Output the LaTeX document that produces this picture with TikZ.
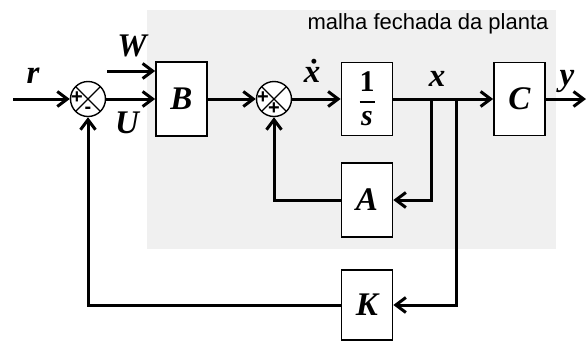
\documentclass[tikz,border=0pt]{standalone}
\usepackage{amsmath}
\usepackage{fontspec}
\setmainfont{Liberation Serif}
\newfontfamily\labelfont{Liberation Sans}
\usetikzlibrary{arrows.meta,calc,positioning}

\begin{document}
\begin{tikzpicture}[x=1pt,y=-1pt,
    block/.style={draw,line width=1.8pt,fill=white,minimum width=51pt,minimum height=74pt,inner sep=0pt,font=\fontsize{33}{33}\selectfont\bfseries\itshape},
    sumnode/.style={draw,circle,line width=1.4pt,fill=white,minimum size=35pt,inner sep=0pt,
      path picture={\draw[line width=1.4pt] (path picture bounding box.north west) -- (path picture bounding box.south east)
        (path picture bounding box.north east) -- (path picture bounding box.south west);}},
    sgn/.style={font=\labelfont\bfseries\fontsize{20}{20}\selectfont,inner sep=0pt},
    lbl/.style={font=\fontsize{33}{33}\selectfont\bfseries\itshape,inner sep=0pt},
    conn/.style={line width=3pt,-{Straight Barb[length=10pt,width=15pt]}}]
        \useasboundingbox (0,0) rectangle (587,341);
        % Draw the shaded region of the plant loop
        \fill[gray!12] (147,10) rectangle (556,249);
        \node[font=\labelfont\fontsize{22}{22}\selectfont,inner sep=0pt] (title) at (428,24) {malha fechada da planta};
        % Blocks and summing junctions
        \node[sumnode] (sum1) at (88,99) {};
        \node[block] (B) at (181.5,99) {B};
        \node[sumnode] (sum2) at (274,99) {};
        \node[block,minimum height=73pt,font=\fontsize{30}{30}\selectfont\bfseries\itshape] (integ) at (367,99) {$\displaystyle\genfrac{}{}{2pt}{0}{\text{\upshape 1}}{\text{s}}$};
        \node[block,minimum height=73pt] (C) at (519.5,99) {C};
        \node[block] (A) at (367,200) {A};
        \node[block,minimum height=70pt] (K) at (367,305) {K};
        % Signs of the summing junctions
        \node[sgn] (p1) at ($(sum1)+(-11,-1)$) {+};
        \node[sgn] (m1) at ($(sum1)+(0,11)$) {-};
        \node[sgn] (p2) at ($(sum2)+(-11,-1)$) {+};
        \node[sgn] (p3) at ($(sum2)+(0,10)$) {+};
        % Free ends and branch points
        \coordinate (rin) at (13,99);
        \coordinate (win) at (107,71);
        \coordinate (yout) at (586,99);
        \coordinate (bA) at (431,99);
        \coordinate (bK) at (456,99);
        % Connectors
        \draw[conn] (rin) -- (sum1);
        \draw[conn] (sum1) -- (B);
        \draw[conn] (win) -- (win -| B.west);
        \draw[conn] (B) -- (sum2);
        \draw[conn] (sum2) -- (integ);
        \draw[conn] (integ) -- (C);
        \draw[conn] (C) -- (yout);
        \draw[conn] (bA) |- (A);
        \draw[conn] (bK) |- (K);
        \draw[conn] (A) -| (sum2);
        \draw[conn] (K) -| (sum1);
        % Label the signals
        \node[lbl] (r) at (33,76) {r};
        \node[lbl] (W) at (132,46) {W};
        \node[lbl] (U) at (127,123) {U};
        \node[lbl] (xd) at (312,71) {\.{x}};
        \node[lbl] (x) at (437,79) {x};
        \node[lbl] (y) at (567,81) {y};
      \end{tikzpicture}
\end{document}
